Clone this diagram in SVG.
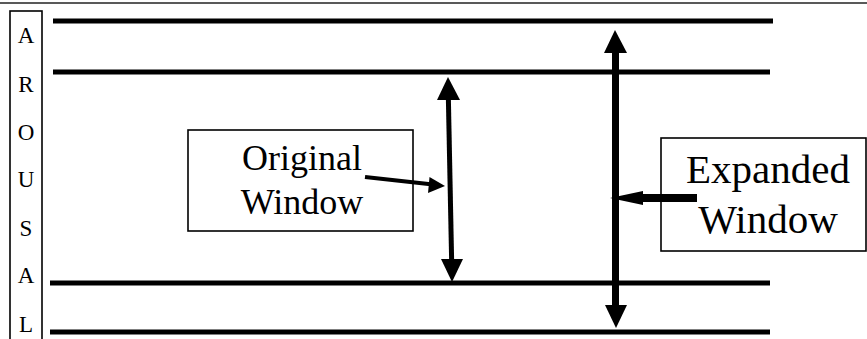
<svg xmlns="http://www.w3.org/2000/svg" width="867" height="339" viewBox="0 0 867 339">
<style>
.lvl{stroke:#000;stroke-width:5;fill:none}
.box{fill:#fff;stroke:#000;stroke-width:1.6}
.t{font-family:"Liberation Serif","Times New Roman",serif;fill:#000}
.sh{stroke:#000;fill:none}
.hd{fill:#000}
</style>
<rect width="867" height="339" fill="#fff"/>
<line x1="0" y1="3" x2="867" y2="3" stroke="#222" stroke-width="1.6"/>
<g id="arousal">
<rect class="box" x="10" y="11" width="32" height="340" stroke-width="2"/>
<g class="t" font-size="23" text-anchor="middle">
<text x="26" y="43">A</text>
<text x="26" y="92">R</text>
<text x="26" y="140">O</text>
<text x="26" y="187">U</text>
<text x="26" y="236">S</text>
<text x="26" y="283">A</text>
<text x="26" y="332">L</text>
</g>
</g>
<g id="levels">
<line class="lvl" x1="53" y1="21" x2="773" y2="21"/>
<line class="lvl" x1="53" y1="72" x2="770" y2="72"/>
<line class="lvl" x1="50" y1="283" x2="770" y2="283"/>
<line class="lvl" x1="50" y1="332" x2="770" y2="332"/>
</g>
<g id="original-window">
<rect class="box" x="188" y="130" width="225" height="101"/>
<g class="t" font-size="36" text-anchor="middle">
<text x="302" y="170">Original</text>
<text x="302" y="214">Window</text>
</g>
</g>
<g id="expanded-window">
<rect class="box" x="661" y="138" width="205" height="113"/>
<g class="t" font-size="41" text-anchor="middle">
<text x="768" y="183">Expanded</text>
<text x="768" y="233">Window</text>
</g>
</g>
<g id="connectors">
<line class="sh" x1="448.3" y1="95" x2="451.7" y2="264" stroke-width="5"/>
<polygon class="hd" points="448,77 437,100 460,100"/>
<polygon class="hd" points="452,282 441,259 463,259"/>
<line class="sh" x1="615.5" y1="50" x2="615.5" y2="308" stroke-width="7"/>
<polygon class="hd" points="615,30 604,53 627,53"/>
<polygon class="hd" points="616,328 605,305 627,305"/>
<line class="sh" x1="365" y1="177" x2="433" y2="184.6" stroke-width="4"/>
<polygon class="hd" points="445,186 429.5,177 428,193"/>
<line class="sh" x1="640" y1="198" x2="697" y2="198" stroke-width="8"/>
<polygon class="hd" points="610,198 643,191 643,205"/>
</g>
</svg>
